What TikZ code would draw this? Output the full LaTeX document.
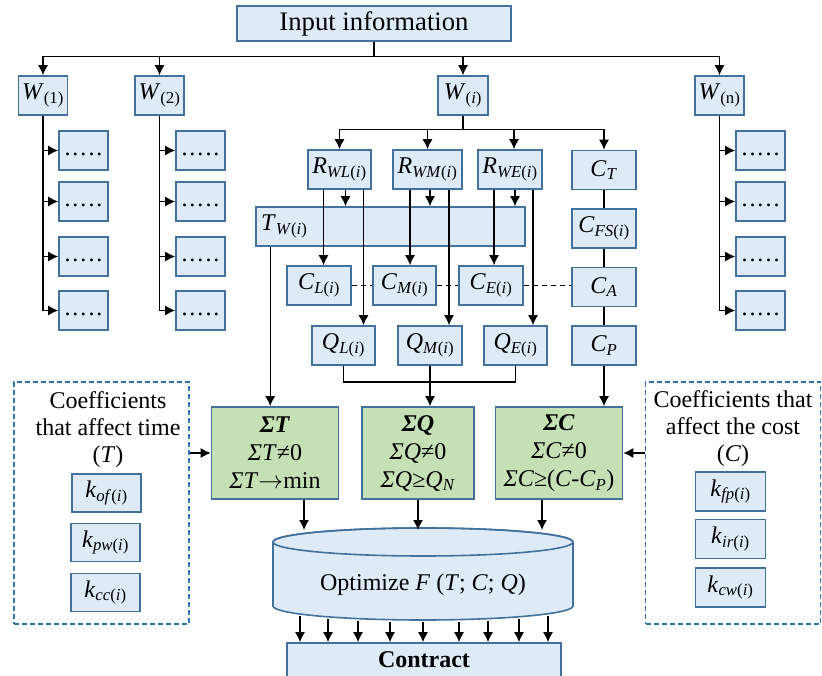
\documentclass[tikz,border=0pt]{standalone}
\usepackage{fontspec}
\setmainfont{Liberation Serif}
\usetikzlibrary{arrows, arrows.meta, positioning, calc}

\definecolor{boxfill}{HTML}{DEEBF7}
\definecolor{boxline}{HTML}{41719C}
\definecolor{sumfill}{HTML}{C5E0B4}
\definecolor{dashblue}{HTML}{2E75B6}

\tikzset{
  box/.style={draw=boxline, fill=boxfill, line width=1.6pt, inner sep=0pt, minimum height=39pt},
  dotbox/.style={box, minimum width=49pt},
  sumbox/.style={box, fill=sumfill, minimum width=127pt, minimum height=92pt, align=center, font=\fontsize{24}{28}\selectfont},
  coefbox/.style={draw=dashblue, line width=1.5pt, dash pattern=on 5pt off 3pt, minimum width=175pt, minimum height=242pt},
  >={Latex[length=10pt,width=10pt]}
}

\newcommand{\fivedots}{\strut.\kern2pt.\kern2pt.\kern2pt.\kern2pt.}
\newcommand{\sub}[2]{\textit{#1}\textsubscript{#2}}

\begin{document}
\begin{tikzpicture}[x=1pt, y=-1pt, line width=1.3pt, font=\fontsize{24}{27}\selectfont]
        \useasboundingbox (0,0) rectangle (822,676);
        \clip (0,0) rectangle (822,676);

        % top level
        \node[box, minimum width=274pt, minimum height=35pt, font=\fontsize{26.7}{30}\selectfont] (inp) at (374,23.5) {Input information};
        \node[box, minimum width=49pt] (w1) at (43,95.5) {\sub{W}{(1)}};
        \node[box, minimum width=49pt] (w2) at (159.5,95.5) {\sub{W}{(2)}};
        \node[box, minimum width=50pt] (wi) at (463,95.5) {\sub{W}{(\textit{i})}};
        \node[box, minimum width=49pt] (wn) at (719.5,95.5) {\sub{W}{(n)}};

        \draw[->] (inp.south) -- ++(0,15) -| (w1);
        \draw[->] (inp.south) -- ++(0,15) -| (w2);
        \draw[->] (inp.south) -- ++(0,15) -| (wi);
        \draw[->] (inp.south) -- ++(0,15) -| (wn);

        % side branches
        \foreach \y [count=\k] in {150.5,201.5,256.5,310.5} {
          \node[dotbox] (a\k) at (83.5,\y) {\fivedots};
          \node[dotbox] (b\k) at (200.5,\y) {\fivedots};
          \node[dotbox] (n\k) at (760.5,\y) {\fivedots};
          \draw[->] (w1.south) |- (a\k);
          \draw[->] (w2.south) |- (b\k);
          \draw[->] (wn.south) |- (n\k);
        }

        % W(i) branch
        \node[box, minimum width=63pt] (rwl) at (339.5,169.5) {\sub{R}{\textit{WL}(\textit{i})}};
        \node[box, minimum width=69pt] (rwm) at (427.5,169.5) {\sub{R}{\textit{WM}(\textit{i})}};
        \node[box, minimum width=64pt] (rwe) at (510,169.5) {\sub{R}{\textit{WE}(\textit{i})}};
        \node[box, minimum width=64pt] (ct) at (604,170) {\sub{C}{\textit{T}}};

        \node[box, minimum width=269pt, inner xsep=5pt, text width=259pt, align=left] (tw) at (390.5,226.5) {\sub{T}{\textit{W}(\textit{i})}};
        \node[box, minimum width=64pt] (cfs) at (604,228.5) {\sub{C}{\textit{FS}(\textit{i})}};

        \node[box, minimum width=64pt] (cl) at (319,285.5) {\sub{C}{\textit{L}(\textit{i})}};
        \node[box, minimum width=63pt] (cm) at (404.5,285.5) {\sub{C}{\textit{M}(\textit{i})}};
        \node[box, minimum width=64pt] (ce) at (491,285.5) {\sub{C}{\textit{E}(\textit{i})}};
        \node[box, minimum width=64pt] (ca) at (604,287) {\sub{C}{\textit{A}}};

        \node[box, minimum width=63pt] (ql) at (343.5,345.5) {\sub{Q}{\textit{L}(\textit{i})}};
        \node[box, minimum width=64pt] (qm) at (430,345.5) {\sub{Q}{\textit{M}(\textit{i})}};
        \node[box, minimum width=63pt] (qe) at (515.5,345.5) {\sub{Q}{\textit{E}(\textit{i})}};
        \node[box, minimum width=64pt] (cp) at (604,345.5) {\sub{C}{\textit{P}}};

        \draw[->] (wi.south) -- ++(0,14) -| (rwl);
        \draw[->] (wi.south) -- ++(0,14) -| (rwm);
        \draw[->] (wi.south) -- ++(0,14) -| ([xshift=4pt]rwe.north);
        \draw[->] (wi.south) -- ++(0,14) -| (ct);

        \draw[->] ([xshift=-16pt]rwl.south) -- ([xshift=-16pt]rwl.south |- cl.north);
        \draw[->] ([xshift=6pt]rwl.south) -- ([xshift=6pt]rwl.south |- tw.north);
        \draw[->] ([xshift=24pt]rwl.south) -- ([xshift=24pt]rwl.south |- ql.north);
        \draw[->] ([xshift=-17.5pt]rwm.south) -- ([xshift=-17.5pt]rwm.south |- cm.north);
        \draw[->] ([xshift=2.5pt]rwm.south) -- ([xshift=2.5pt]rwm.south |- tw.north);
        \draw[->] ([xshift=21.5pt]rwm.south) -- ([xshift=21.5pt]rwm.south |- qm.north);
        \draw[->] ([xshift=-16pt]rwe.south) -- ([xshift=-16pt]rwe.south |- ce.north);
        \draw[->] ([xshift=5pt]rwe.south) -- ([xshift=5pt]rwe.south |- tw.north);
        \draw[->] ([xshift=23pt]rwe.south) -- ([xshift=23pt]rwe.south |- qe.north);

        \draw[dash pattern=on 5pt off 4pt] (cl.east) -- (cm.west) (cm.east) -- (ce.west) (ce.east) -- (ce.east -| ca.west);
        \draw (ct) -- (cfs) -- (ca) -- (cp);

        % sums
        \node[sumbox] (sumT) at (275,453) {\textbf{\textit{ΣT}}\\\textit{ΣT}≠0\\\textit{ΣT}$\rightarrow$min};
        \node[sumbox, minimum width=112pt] (sumQ) at (418,453) {\textbf{\textit{ΣQ}}\\\textit{ΣQ}≠0\\\textit{ΣQ}≥\sub{Q}{\textit{N}}};
        \node[sumbox] (sumC) at (559,453) {\textbf{\textit{ΣC}}\\\textit{ΣC}≠0\\\textit{ΣC}≥(\textit{C}-\sub{C}{\textit{P}})};

        \draw[->] ([xshift=15pt]tw.south west) -- ([xshift=15pt]tw.south west |- sumT.north);
        \coordinate (qj) at (430,382);
        \draw (ql.south) |- (qj) -| (qe.south);
        \draw[->] (qm.south) -- (qm.south |- sumQ.north);
        \draw[->] (cp) -- (cp |- sumC.north);

        % coefficients
        \node[coefbox] (coefT) at (101.5,503) {};
        \node[align=center] (txtT) at (108,430) {Coefficients\\that affect time\\(\textit{T})};
        \node[box, minimum width=69pt, minimum height=38pt] (kof) at (106.5,493) {\sub{k}{\textit{of}(\textit{i})}};
        \node[box, minimum width=69pt, minimum height=38pt] (kpw) at (105.5,542.5) {\sub{k}{\textit{pw}(\textit{i})}};
        \node[box, minimum width=69pt, minimum height=38pt] (kcc) at (105.5,592.5) {\sub{k}{\textit{cc}(\textit{i})}};

        \node[coefbox] (coefC) at (733,503) {};
        \node[align=center] (txtC) at (733,429) {Coefficients that\\affect the cost\\(\textit{C})};
        \node[box, minimum width=70pt] (kfp) at (730.5,491.5) {\sub{k}{\textit{fp}(\textit{i})}};
        \node[box, minimum width=70pt] (kir) at (730.5,539) {\sub{k}{\textit{ir}(\textit{i})}};
        \node[box, minimum width=70pt] (kcw) at (730.5,587.5) {\sub{k}{\textit{cw}(\textit{i})}};

        \draw[->] (coefT.east |- sumT.west) -- (sumT.west);
        \draw[->] (coefC.west |- sumC.east) -- (sumC.east);

        % optimisation drum
        \filldraw[draw=boxline, fill=boxfill, line width=1.6pt] (273,542) -- (273,606)
          arc[start angle=180, end angle=0, x radius=150, y radius=14] -- (573,542)
          arc[start angle=0, end angle=-180, x radius=150, y radius=14] -- cycle;
        \draw[boxline, line width=1.6pt] (423,542) ellipse [x radius=150, y radius=14];
        \node (opt) at (423,585) {Optimize \textit{F} (\textit{T}; \textit{C}; \textit{Q})};
        \coordinate (cap) at (423,530);

        \draw[->] ([xshift=29pt]sumT.south) -- ([xshift=29pt]sumT.south |- cap);
        \draw[->] (sumQ.south) -- (sumQ.south |- cap);
        \draw[->] ([xshift=-17pt]sumC.south) -- ([xshift=-17pt]sumC.south |- cap);

        \node[box, minimum width=274pt, minimum height=34pt] (con) at (424,660) {\textbf{Contract}};
        \foreach \x in {300,328,358,390,423,459,488,519,548} {
          \pgfmathsetmacro{\yb}{608+14*sqrt(1-((\x-423)/150)^2)}
          \draw[->] (\x,\yb) -- (\x,0 |- con.north);
        }
      \end{tikzpicture}
\end{document}
